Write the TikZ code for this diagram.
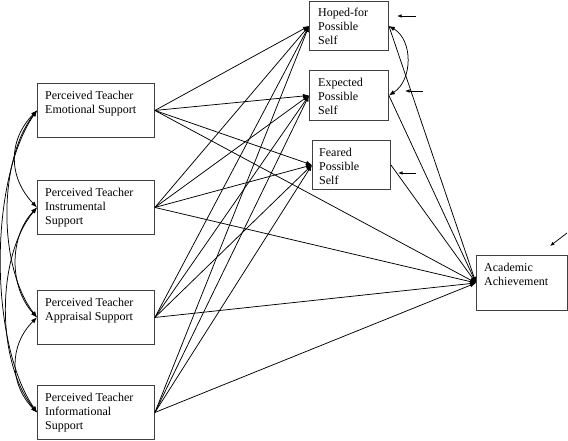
\documentclass[tikz,border=0pt]{standalone}
\usepackage{fontspec}
\setmainfont{Liberation Serif}
\usetikzlibrary{arrows.meta,calc}
\begin{document}
\begin{tikzpicture}[x=1pt,y=-1pt,
  box/.style={draw=black!75,line width=0.9pt,rectangle,inner sep=0pt,anchor=north west},
  lbl/.style={anchor=north west,inner sep=0pt,align=left,font=\fontsize{12}{14}\selectfont},
  pth/.style={line width=0.75pt,-{Latex[length=6pt,width=4.5pt]}},
  err/.style={line width=0.75pt,-{Latex[length=4.5pt,width=3.5pt]}},
  cov/.style={line width=0.75pt,{Latex[length=6pt,width=4.5pt]}-{Latex[length=6pt,width=4.5pt]}}]
\useasboundingbox (0,0) rectangle (568,440);
% left boxes
\node[box,minimum width=117pt,minimum height=54pt] (emo) at (37,83) {};
\node[box,minimum width=117pt,minimum height=54pt] (ins) at (37,180) {};
\node[box,minimum width=117pt,minimum height=54pt] (app) at (37,290) {};
\node[box,minimum width=117pt,minimum height=54pt] (inf) at (37,385) {};
\node[lbl] (emoT) at ($(emo.north west)+(8,7.5)$) {Perceived Teacher\\Emotional Support};
\node[lbl] (insT) at ($(ins.north west)+(8,7.5)$) {Perceived Teacher\\Instrumental\\Support};
\node[lbl] (appT) at ($(app.north west)+(8,7.5)$) {Perceived Teacher\\Appraisal Support};
\node[lbl] (infT) at ($(inf.north west)+(8,7.5)$) {Perceived Teacher\\Informational\\Support};
% right boxes
\node[box,minimum width=79pt,minimum height=49pt] (hop) at (309,1) {};
\node[box,minimum width=79pt,minimum height=50pt] (exp) at (309,70) {};
\node[box,minimum width=78pt,minimum height=49pt] (fea) at (312,140) {};
\node[box,minimum width=91pt,minimum height=55pt] (aca) at (476,255) {};
\node[lbl] (hopT) at ($(hop.north west)+(9,6.5)$) {Hoped-for\\Possible\\Self};
\node[lbl] (expT) at ($(exp.north west)+(9,7.5)$) {Expected\\Possible\\Self};
\node[lbl] (feaT) at ($(fea.north west)+(7,7.5)$) {Feared\\Possible\\Self};
\node[lbl] (acaT) at ($(aca.north west)+(8,8)$) {Academic\\Achievement};
% paths from predictors
\foreach \s in {emo,ins,app,inf}{
  \foreach \t in {hop,exp,fea,aca}{
    \draw[pth] (\s.east) -- (\t.west);
  }
}
\foreach \s in {hop,exp,fea}{
  \draw[pth] (\s.east) -- (aca.west);
}
% covariances on the left
\draw[cov] (emo.west) .. controls (8,140) and (8,177) .. (ins.west);
\draw[cov] (ins.west) .. controls (9,237) and (9,287) .. (app.west);
\draw[cov] (app.west) .. controls (9,345) and (9,384) .. (inf.west);
\draw[cov] (emo.west) .. controls (-2,160) and (-2,267) .. (app.west);
\draw[cov] (ins.west) .. controls (-4,257) and (-4,362) .. (inf.west);
\draw[cov] (emo.west) .. controls (-11,180) and (-11,342) .. (inf.west);
% covariance on the right
\draw[cov] (hop.east) .. controls (413,40) and (413,80) .. (exp.east);
% error terms
\coordinate (eh1) at (416,16); \coordinate (eh2) at (397,16);
\coordinate (ee1) at (423,91); \coordinate (ee2) at (405,91);
\coordinate (ef1) at (416,173); \coordinate (ef2) at (398,173);
\coordinate (ea1) at (567,233); \coordinate (ea2) at (550,246);
\draw[err] (eh1) -- (eh2);
\draw[err] (ee1) -- (ee2);
\draw[err] (ef1) -- (ef2);
\draw[err] (ea1) -- (ea2);
\end{tikzpicture}
\end{document}
